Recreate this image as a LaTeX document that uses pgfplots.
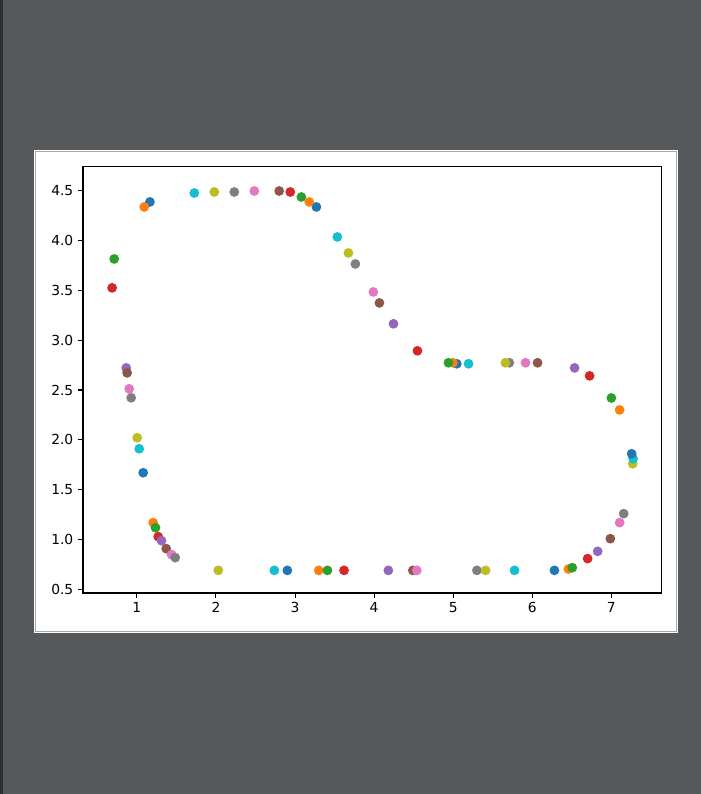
\documentclass[border=0pt]{standalone}
\usepackage{pgfplots}
\pgfplotsset{compat=1.18}
\usepackage{fontspec}
\setmainfont{DejaVu Sans}

\definecolor{bgdark}{HTML}{2E2F30}
\definecolor{bggray}{HTML}{55595B}
\definecolor{framegray}{HTML}{A8A8A8}
\definecolor{tabblue}{HTML}{1F77B4}
\definecolor{taborange}{HTML}{FF7F0E}
\definecolor{tabgreen}{HTML}{2CA02C}
\definecolor{tabred}{HTML}{D62728}
\definecolor{tabpurple}{HTML}{9467BD}
\definecolor{tabbrown}{HTML}{8C564B}
\definecolor{tabpink}{HTML}{E377C2}
\definecolor{tabgray}{HTML}{7F7F7F}
\definecolor{tabolive}{HTML}{BCBD22}
\definecolor{tabcyan}{HTML}{17BECF}

\pgfplotsset{
  dot/.style={only marks, mark=*, mark size=3pt, color=#1,
    mark options={line width=1pt, draw=#1, fill=#1}},
}

\begin{document}
\begin{tikzpicture}[x=0.72bp,y=0.72bp]
  % window background and figure panel
  \fill[bgdark] (0,0) rectangle (701,794);
  \fill[bggray] (3,0) rectangle (701,794);
  \fill[white] (34,161) rectangle (678,644);
  \draw[framegray, line width=0.72bp] (35.5,162.5) rectangle (676.5,642.5);

  \begin{axis}[
    at={(59.76bp,144.72bp)}, anchor=south west,
    scale only axis, width=416.16bp, height=306.72bp,
    xmin=0.319, xmax=7.628, ymin=0.463, ymax=4.738,
    xtick={1,2,3,4,5,6,7},
    ytick={0.5,1.0,1.5,2.0,2.5,3.0,3.5,4.0,4.5},
    yticklabel style={/pgf/number format/.cd, fixed, fixed zerofill, precision=1},
    /pgf/number format/assume math mode=true,
    tick label style={font=\fontsize{10}{12}\selectfont},
    axis line style={line width=0.75pt},
    every tick/.style={black, line width=0.75pt},
    major tick length=3.5pt,
    tick align=outside,
    xtick pos=bottom, ytick pos=left,
    clip=false,
  ]
    \addplot[dot=tabblue] coordinates {
      (1.165,4.387) (3.27,4.337) (5.046,2.763) (2.903,0.690) (6.28,0.690) (1.08,1.67)
    };
    \addplot[dot=taborange] coordinates {
      (1.093,4.337) (3.18,4.387) (4.996,2.773) (7.105,2.30) (3.30,0.690) (6.456,0.703) (1.206,1.169)
    };
    \addplot[dot=tabgreen] coordinates {
      (0.713,3.815) (3.08,4.437) (4.94,2.773) (7.0,2.42) (3.41,0.690) (6.506,0.717) (1.236,1.118)
    };
    \addplot[dot=tabred] coordinates {
      (0.687,3.525) (2.94,4.487) (4.548,2.893) (6.725,2.642) (6.70,0.808) (3.62,0.690) (1.27,1.028)
    };
    \addplot[dot=tabpurple] coordinates {
      (4.245,3.164) (6.535,2.722) (6.827,0.881) (4.18,0.690) (0.865,2.722) (1.312,0.988)
    };
    \addplot[dot=tabbrown] coordinates {
      (2.80,4.497) (4.067,3.374) (6.067,2.773) (6.987,1.008) (4.49,0.690) (0.877,2.672) (1.371,0.908)
    };
    \addplot[dot=tabpink] coordinates {
      (2.485,4.497) (3.99,3.484) (5.915,2.773) (7.105,1.169) (4.54,0.690) (0.903,2.512) (1.439,0.848)
    };
    \addplot[dot=tabgray] coordinates {
      (2.232,4.487) (3.763,3.765) (5.71,2.773) (7.156,1.259) (5.30,0.690) (0.928,2.422) (1.485,0.818)
    };
    \addplot[dot=tabolive] coordinates {
      (1.979,4.487) (3.675,3.875) (5.66,2.773) (7.27,1.76) (5.41,0.690) (1.004,2.021) (2.03,0.690)
    };
    \addplot[dot=tabcyan] coordinates {
      (1.726,4.477) (3.535,4.036) (5.194,2.763) (7.275,1.81) (2.738,0.690) (5.776,0.690) (1.03,1.91)
    };
    % blue point lying on top of the cyan and olive ones on the right
    \addplot[dot=tabblue] coordinates {(7.257,1.86)};
  \end{axis}
\end{tikzpicture}
\end{document}
